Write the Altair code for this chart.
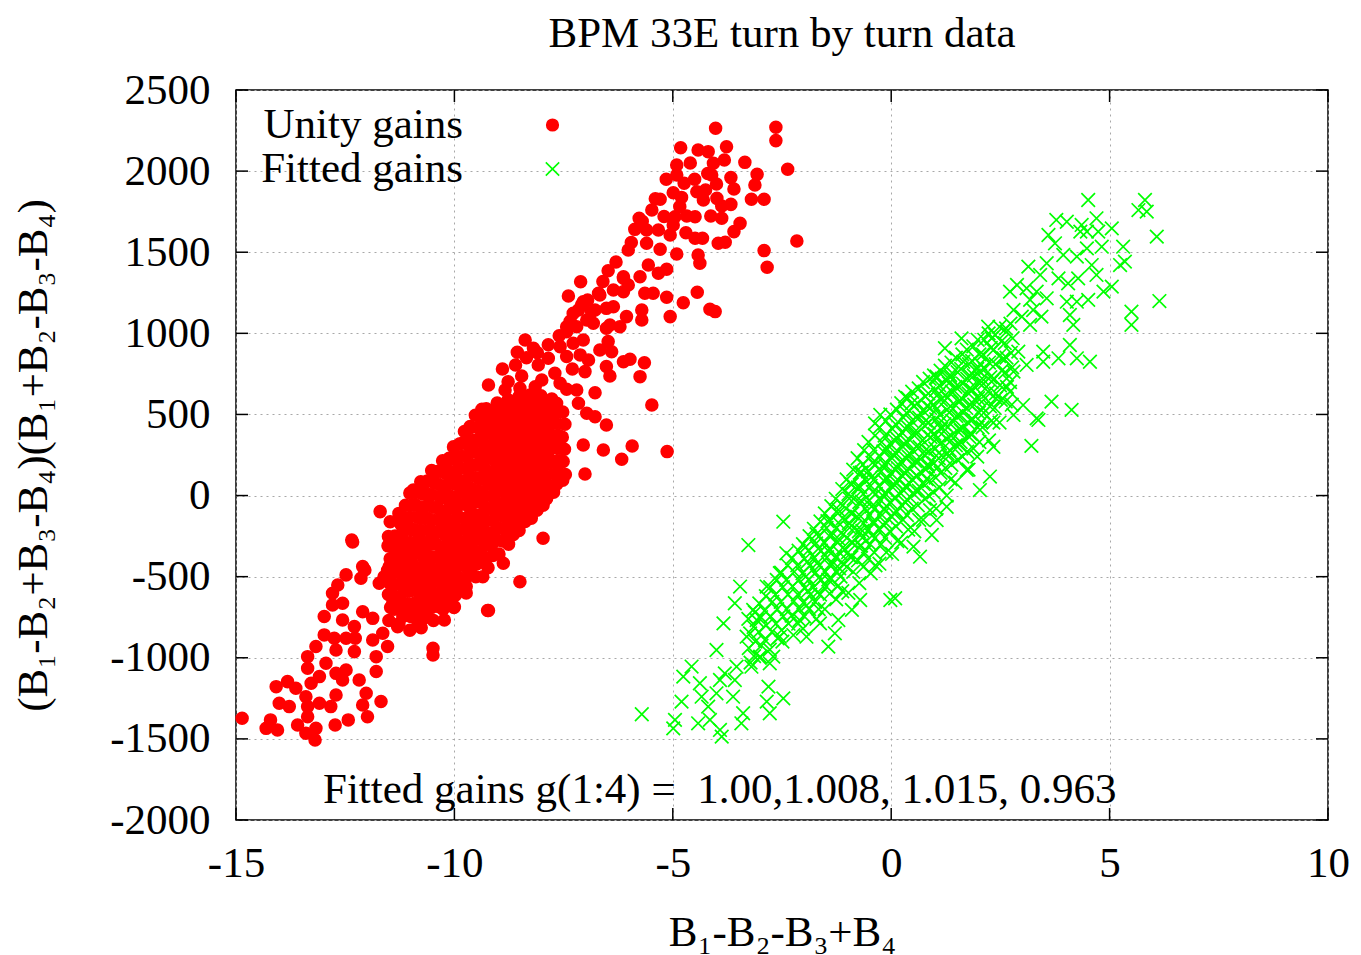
import altair as alt
import pandas as pd

FONT = "Liberation Serif"
FS = 43

title_text = "BPM 33E turn by turn data"
x_title = "B₁-B₂-B₃+B₄"
y_title = "(B₁-B₂+B₃-B₄)(B₁+B₂-B₃-B₄)"
note_text = "Fitted gains g(1:4) = \u00a01.00,1.008, 1.015, 0.963"
series_names = ["Unity gains", "Fitted gains"]
series_colors = ["#ff0000", "#00ff00"]
x_ticks = [-15, -10, -5, 0, 5, 10]
y_ticks = [-2000, -1500, -1000, -500, 0, 500, 1000, 1500, 2000, 2500]

# ---------------- Unity gains (red) ----------------
red_upper = [
    [-4.02, 2264], [-2.64, 2270], [-2.64, 2188], [-2.37, 2011], [-2.16, 1569], [-2.91, 1510], [-2.84, 1407],
    [-4.82, 2144], [-4.42, 2130], [-4.19, 2120], [-3.77, 2150], [-3.82, 2068], [-3.35, 2054], [-4.91, 2038],
    [-4.91, 1976], [-4.07, 2048], [-4.11, 1976], [-3.07, 1980], [-3.67, 1960], [-3.6, 1890], [-3.12, 1914],
    [-3.2, 1826], [-2.91, 1826], [-4.74, 1925], [-4.99, 1867], [-4.45, 1873], [-4.25, 1884], [-4.3, 1822],
    [-3.99, 1832], [-3.88, 1785], [-3.67, 1795], [-4.8, 1838], [-4.84, 1781], [-5.29, 1826], [-5.48, 1760],
    [-5.77, 1709], [-4.95, 1719], [-4.68, 1723], [-4.49, 1719], [-4.13, 1723], [-3.88, 1709], [-3.46, 1678],
    [-3.6, 1627], [-5.87, 1641], [-5.6, 1637], [-5.33, 1637], [-5.06, 1606], [-4.99, 1668], [-4.49, 1586],
    [-4.32, 1586], [-3.96, 1555], [-3.8, 1561], [-6.02, 1514], [-5.6, 1555], [-5.29, 1518], [-4.91, 1489],
    [-4.42, 1483], [-4.38, 1432], [-6.48, 1386], [-6.13, 1349], [-5.75, 1349], [-5.33, 1370], [-5.14, 1395],
    [-5.56, 1421], [-7.11, 1318], [-7.39, 1230], [-7.09, 1175], [-6.67, 1236], [-6.36, 1267], [-6.02, 1298],
    [-5.64, 1247], [-5.45, 1247], [-5.14, 1222], [-4.44, 1253], [-4.76, 1189], [-4.15, 1148], [-4.03, 1134],
    [-5.06, 1103], [-5.71, 1144], [-5.71, 1082], [-6.06, 1103], [-6.36, 1164], [-6.78, 1144], [-6.97, 1082],
    [-7.28, 1123], [-6.44, 1051], [-7.43, 1041], [-6.13, 1339], [-7.05, 1195], [-6.7, 1247], [-6.13, 1257],
    [-7.16, 1144], [-6.86, 1134], [-6.52, 1154], [-7.2, 1041], [-6.82, 1062], [-6.52, 1031], [-6.21, 1041],
    [-7.43, 1010], [-8.38, 959], [-8.19, 908], [-8.56, 883], [-7.58, 918], [-7.28, 939], [-7.05, 959],
    [-6.67, 897], [-6.48, 949], [-6.4, 887], [-7.85, 846], [-8.08, 805], [-7.43, 857], [-7.12, 867],
    [-6.93, 836], [-6.13, 825], [-5.98, 840], [-5.65, 819], [-6.52, 795], [-5.75, 733], [-6.44, 737],
    [-7.01, 764], [-7.7, 754], [-7.3, 780], [-8.46, 737], [-8.0, 712], [-8.77, 702], [-9.22, 682],
    [-8.84, 651], [-8.5, 661], [-8.15, 671], [-7.58, 692], [-7.43, 655], [-7.2, 651], [-6.78, 634],
    [-5.48, 558], [-9.37, 532], [-9.0, 507], [-8.54, 558], [-8.19, 572], [-7.66, 569], [-7.16, 569],
    [-6.97, 507], [-6.78, 486], [-6.52, 435], [-7.05, 312], [-6.59, 281], [-6.17, 224], [-5.93, 306],
    [-5.13, 271], [-7.01, 133], [-9.64, 425], [-9.76, 332], [-10.14, 219], [-10.94, 34],
    [-8.9, 780], [-8.6, 805], [-8.35, 850], [-8.1, 880], [-7.85, 930], [-7.6, 985], [-7.35, 1075],
    [-6.95, 1205], [-6.6, 1320], [-6.3, 1440], [-5.95, 1560], [-5.7, 1690], [-5.4, 1830], [-5.15, 1950],
    [-4.6, 2050], [-4.5, 1950], [-4.2, 1985], [-4.0, 1920], [-5.2, 1720], [-4.7, 1620],
]

red_core = [
    [-11.52, -310], [-11.47, -390], [-11.53, -460], [-11.48, -540], [-11.51, -610], [-11.46, -690], [-11.5, -770],
    [-11.27, -110], [-11.22, -180], [-11.26, -255], [-11.23, -330], [-11.28, -410], [-11.24, -480], [-11.21, -555],
    [-11.26, -630], [-11.23, -705], [-11.27, -790],
    [-11.02, 15], [-10.97, -60], [-11.03, -135], [-10.98, -210], [-11.01, -290], [-10.96, -365], [-11.02, -440],
    [-10.99, -515], [-11.03, -590], [-10.97, -670], [-11.0, -745], [-11.02, -830],
    [-10.77, 85], [-10.73, 10], [-10.76, -70], [-10.72, -145], [-10.78, -220], [-10.74, -300], [-10.71, -375],
    [-10.76, -450], [-10.73, -525], [-10.77, -600], [-10.74, -680], [-10.72, -760], [-10.76, -815],
    [-10.52, 155], [-10.47, 80], [-10.53, 5], [-10.48, -70], [-10.51, -150], [-10.46, -225], [-10.52, -300],
    [-10.49, -380], [-10.53, -455], [-10.47, -530], [-10.5, -610], [-10.52, -690], [-10.48, -770],
    [-10.27, 215], [-10.22, 140], [-10.26, 60], [-10.23, -15], [-10.28, -95], [-10.24, -170], [-10.21, -245],
    [-10.26, -320], [-10.23, -400], [-10.27, -475], [-10.24, -550], [-10.22, -625], [-10.26, -700],
    [-10.02, 300], [-9.97, 220], [-10.03, 145], [-9.98, 70], [-10.01, -10], [-9.96, -85], [-10.02, -160],
    [-9.99, -235], [-10.03, -315], [-9.97, -390], [-10.0, -465], [-10.02, -540], [-9.98, -615], [-10.01, -690],
    [-9.77, 395], [-9.72, 320], [-9.76, 245], [-9.73, 165], [-9.78, 90], [-9.74, 15], [-9.71, -60],
    [-9.76, -140], [-9.73, -215], [-9.77, -290], [-9.74, -365], [-9.72, -445], [-9.76, -520], [-9.73, -600],
    [-9.52, 495], [-9.47, 420], [-9.53, 340], [-9.48, 265], [-9.51, 190], [-9.46, 110], [-9.52, 35],
    [-9.49, -40], [-9.53, -120], [-9.47, -195], [-9.5, -270], [-9.52, -345], [-9.48, -420], [-9.51, -500],
    [-9.27, 535], [-9.22, 460], [-9.26, 385], [-9.23, 305], [-9.28, 230], [-9.24, 150], [-9.21, 75],
    [-9.26, 0], [-9.23, -80], [-9.27, -155], [-9.24, -230], [-9.22, -305], [-9.26, -385], [-9.23, -445],
    [-9.02, 570], [-8.97, 490], [-9.03, 415], [-8.98, 340], [-9.01, 260], [-8.96, 185], [-9.02, 110],
    [-8.99, 30], [-9.03, -45], [-8.97, -120], [-9.0, -200], [-9.02, -275], [-8.98, -360],
    [-8.77, 590], [-8.72, 515], [-8.76, 440], [-8.73, 360], [-8.78, 285], [-8.74, 210], [-8.71, 130],
    [-8.76, 55], [-8.73, -20], [-8.77, -100], [-8.74, -175], [-8.72, -250], [-8.76, -300],
    [-8.52, 610], [-8.47, 530], [-8.53, 455], [-8.48, 380], [-8.51, 300], [-8.46, 225], [-8.52, 150],
    [-8.49, 70], [-8.53, -5], [-8.47, -80], [-8.5, -155], [-8.52, -215],
    [-8.27, 620], [-8.22, 545], [-8.26, 470], [-8.23, 390], [-8.28, 315], [-8.24, 240], [-8.21, 160],
    [-8.26, 85], [-8.23, 10], [-8.27, -65], [-8.24, -140],
    [-8.02, 615], [-7.97, 540], [-8.03, 465], [-7.98, 385], [-8.01, 310], [-7.96, 235], [-8.02, 155],
    [-7.99, 80], [-8.03, 0], [-7.97, -60],
    [-7.77, 595], [-7.72, 520], [-7.76, 445], [-7.73, 365], [-7.78, 290], [-7.74, 210], [-7.71, 135],
    [-7.76, 60], [-7.73, 20],
    [-7.52, 515], [-7.47, 440], [-7.53, 360], [-7.48, 285], [-7.51, 210], [-7.46, 130], [-7.52, 95],
]

red_core_fill = [
    [-11.36, -250], [-11.39, -325], [-11.35, -400], [-11.4, -475], [-11.37, -550], [-11.34, -625], [-11.38, -700],
    [-11.12, -60], [-11.15, -135], [-11.11, -210], [-11.14, -285], [-11.1, -360], [-11.13, -435], [-11.16, -510],
    [-11.12, -585], [-11.14, -660], [-11.11, -735],
    [-10.87, 20], [-10.9, -55], [-10.86, -130], [-10.89, -205], [-10.85, -280], [-10.88, -355], [-10.91, -430],
    [-10.87, -505], [-10.89, -580], [-10.86, -655], [-10.88, -730],
    [-10.62, 90], [-10.65, 15], [-10.61, -60], [-10.64, -135], [-10.6, -210], [-10.63, -285], [-10.66, -360],
    [-10.62, -435], [-10.64, -510], [-10.61, -585], [-10.63, -660], [-10.65, -735],
    [-10.37, 150], [-10.4, 75], [-10.36, 0], [-10.39, -75], [-10.35, -150], [-10.38, -225], [-10.41, -300],
    [-10.37, -375], [-10.39, -450], [-10.36, -525], [-10.38, -600], [-10.4, -675],
    [-10.12, 230], [-10.15, 155], [-10.11, 80], [-10.14, 5], [-10.1, -70], [-10.13, -145], [-10.16, -220],
    [-10.12, -295], [-10.14, -370], [-10.11, -445], [-10.13, -520], [-10.15, -595], [-10.12, -660],
    [-9.87, 320], [-9.9, 245], [-9.86, 170], [-9.89, 95], [-9.85, 20], [-9.88, -55], [-9.91, -130],
    [-9.87, -205], [-9.89, -280], [-9.86, -355], [-9.88, -430], [-9.9, -505], [-9.87, -580],
    [-9.62, 420], [-9.65, 345], [-9.61, 270], [-9.64, 195], [-9.6, 120], [-9.63, 45], [-9.66, -30],
    [-9.62, -105], [-9.64, -180], [-9.61, -255], [-9.63, -330], [-9.65, -405], [-9.62, -480],
    [-9.37, 480], [-9.4, 405], [-9.36, 330], [-9.39, 255], [-9.35, 180], [-9.38, 105], [-9.41, 30],
    [-9.37, -45], [-9.39, -120], [-9.36, -195], [-9.38, -270], [-9.4, -345], [-9.37, -410],
    [-9.12, 520], [-9.15, 445], [-9.11, 370], [-9.14, 295], [-9.1, 220], [-9.13, 145], [-9.16, 70],
    [-9.12, -5], [-9.14, -80], [-9.11, -155], [-9.13, -230], [-9.15, -305], [-9.12, -370],
    [-8.87, 545], [-8.9, 470], [-8.86, 395], [-8.89, 320], [-8.85, 245], [-8.88, 170], [-8.91, 95],
    [-8.87, 20], [-8.89, -55], [-8.86, -130], [-8.88, -205], [-8.9, -280],
    [-8.62, 565], [-8.65, 490], [-8.61, 415], [-8.64, 340], [-8.6, 265], [-8.63, 190], [-8.66, 115],
    [-8.62, 40], [-8.64, -35], [-8.61, -110], [-8.63, -185], [-8.65, -240],
    [-8.37, 580], [-8.4, 505], [-8.36, 430], [-8.39, 355], [-8.35, 280], [-8.38, 205], [-8.41, 130],
    [-8.37, 55], [-8.39, -20], [-8.36, -95], [-8.38, -160],
    [-8.12, 580], [-8.15, 505], [-8.11, 430], [-8.14, 355], [-8.1, 280], [-8.13, 205], [-8.16, 130],
    [-8.12, 55], [-8.14, -20], [-8.11, -90],
    [-7.87, 570], [-7.9, 495], [-7.86, 420], [-7.89, 345], [-7.85, 270], [-7.88, 195], [-7.91, 120],
    [-7.87, 45], [-7.89, -20],
    [-7.62, 520], [-7.65, 445], [-7.61, 370], [-7.64, 295], [-7.6, 220], [-7.63, 145], [-7.66, 70],
]

red_lower = [
    [-14.86, -1373], [-14.31, -1435], [-14.05, -1445], [-14.21, -1383], [-13.59, -1414], [-13.4, -1465],
    [-13.19, -1507], [-13.17, -1435], [-13.36, -1363], [-14.01, -1280], [-13.78, -1301], [-14.08, -1178],
    [-13.82, -1147], [-13.63, -1188], [-13.4, -1240], [-13.36, -1301], [-13.09, -1280], [-12.83, -1301],
    [-12.73, -1414], [-12.43, -1383], [-12.71, -1229], [-12.1, -1291], [-11.99, -1363], [-11.68, -1270],
    [-12.02, -1219], [-12.18, -1137], [-13.36, -1065], [-13.36, -993], [-13.17, -931], [-13.28, -1157],
    [-13.09, -1116], [-12.94, -1034], [-12.71, -1096], [-12.56, -1137], [-12.48, -1075], [-12.98, -859],
    [-12.75, -880], [-12.71, -952], [-12.29, -962], [-12.98, -746], [-12.79, -674], [-12.56, -664],
    [-12.79, -602], [-12.67, -551], [-12.48, -489], [-12.1, -438], [-12.14, -510], [-12.33, -286],
    [-12.56, -767], [-12.29, -808], [-12.1, -716], [-11.87, -757], [-11.64, -849], [-11.53, -931],
    [-11.79, -993], [-11.79, -1085], [-11.87, -890], [-12.27, -880], [-12.48, -880], [-10.49, -941],
    [-10.49, -983], [-10.84, -798], [-11.3, -808], [-10.23, -767], [-10.0, -685], [-10.35, -685],
    [-9.24, -709], [-9.35, -500], [-9.73, -561], [-11.41, -664], [-11.61, -500], [-11.72, -541],
    [-11.49, -438], [-11.34, -356], [-11.11, -397], [-10.96, -479], [-10.73, -561], [-11.04, -685],
    [-10.8, -726], [-11.18, -746], [-10.42, -459], [-10.12, -397], [-9.66, -376], [-10.27, -541],
    [-10.58, -623], [-12.35, -274], [-11.7, -99], [-11.47, -161], [-11.21, -140], [-11.51, -253],
    [-12.05, -459], [-8.5, -531], [-7.97, -263], [-8.88, -417], [-9.22, -709],
]

# ---------------- Fitted gains (green) ----------------
green_upper = [
    [4.51, 1822], [5.81, 1822], [5.85, 1750], [5.66, 1760], [6.08, 1596], [6.14, 1199], [5.5, 1134],
    [5.5, 1052], [5.31, 1534], [5.35, 1442], [5.24, 1421], [5.05, 1647], [5.05, 1288], [4.86, 1257],
    [4.36, 1668], [4.48, 1627], [4.33, 1627], [4.7, 1709], [4.74, 1627], [3.78, 1699], [4.02, 1688],
    [3.6, 1606], [3.75, 1555], [3.94, 1483], [4.25, 1473], [4.48, 1524], [4.82, 1534], [4.59, 1421],
    [4.7, 1360], [4.28, 1339], [4.05, 1308], [3.83, 1339], [3.56, 1432], [3.41, 1360], [3.14, 1411],
    [2.88, 1298], [2.72, 1257], [3.1, 1278], [3.33, 1257], [3.56, 1216], [3.18, 1206], [4.02, 1195],
    [4.25, 1195], [4.51, 1206], [4.09, 1113], [4.17, 1052], [2.8, 1144], [2.99, 1103], [3.25, 1144],
    [3.44, 1103], [3.18, 1052], [2.64, 1010], [2.22, 1041], [2.3, 969], [1.61, 969], [1.23, 908],
    [4.09, 928], [3.83, 846], [4.25, 846], [4.55, 825], [3.48, 887], [3.48, 825], [2.91, 887],
    [3.1, 805], [2.8, 764], [2.57, 846], [3.67, 579], [4.13, 528], [3.02, 558], [3.33, 476],
    [2.3, 702], [2.03, 764], [1.65, 825], [1.35, 743], [1.04, 723], [1.8, 660], [2.4, 600], [2.72, 640],
    [3.37, 466], [3.21, 306], [2.8, 497], [2.34, 301], [2.26, 117], [2.03, 34], [1.73, 158],
    [1.27, -69], [1.04, -151], [0.93, -243], [0.51, -315], [0.66, -377], [0.09, -633], [-0.02, -644],
    [-0.25, 497], [-0.37, 445], [0.32, 610], [0.47, 569], [1.04, 733], [-2.47, -161],
]

green_core = [
    [-3.27, -760], [-3.23, -850], [-3.26, -940], [-3.22, -1030],
    [-3.02, -665], [-2.98, -750], [-3.03, -840], [-2.97, -925], [-3.01, -1000],
    [-2.77, -565], [-2.72, -655], [-2.76, -745], [-2.73, -840], [-2.78, -950],
    [-2.52, -475], [-2.48, -565], [-2.53, -655], [-2.47, -745], [-2.51, -830], [-2.49, -900],
    [-2.27, -385], [-2.22, -470], [-2.26, -560], [-2.23, -650], [-2.28, -740], [-2.24, -860],
    [-2.02, -300], [-1.98, -390], [-2.03, -480], [-1.97, -570], [-2.01, -660], [-1.99, -745], [-2.02, -820],
    [-1.77, -205], [-1.72, -295], [-1.76, -385], [-1.73, -475], [-1.78, -565], [-1.74, -655], [-1.71, -760],
    [-1.52, -110], [-1.48, -200], [-1.53, -290], [-1.47, -380], [-1.51, -470], [-1.49, -560], [-1.52, -700],
    [-1.27, -20], [-1.22, -110], [-1.26, -200], [-1.23, -290], [-1.28, -380], [-1.24, -470], [-1.21, -555],
    [-1.26, -640],
    [-1.02, 100], [-0.98, 10], [-1.03, -80], [-0.97, -170], [-1.01, -260], [-0.99, -350], [-1.02, -440],
    [-0.98, -600],
    [-0.77, 230], [-0.72, 140], [-0.76, 50], [-0.73, -40], [-0.78, -130], [-0.74, -220], [-0.71, -310],
    [-0.76, -400], [-0.73, -540],
    [-0.52, 330], [-0.48, 240], [-0.53, 150], [-0.47, 60], [-0.51, -30], [-0.49, -120], [-0.52, -210],
    [-0.48, -300], [-0.53, -390], [-0.47, -480],
    [-0.27, 420], [-0.22, 330], [-0.26, 240], [-0.23, 150], [-0.28, 60], [-0.24, -30], [-0.21, -120],
    [-0.26, -210], [-0.23, -300], [-0.27, -420],
    [-0.02, 500], [0.03, 410], [-0.03, 320], [0.02, 230], [-0.01, 140], [0.04, 50], [-0.02, -40],
    [0.01, -130], [-0.03, -220], [0.02, -360],
    [0.23, 570], [0.28, 480], [0.24, 390], [0.27, 300], [0.22, 210], [0.26, 120], [0.29, 30],
    [0.24, -60], [0.27, -150], [0.23, -290],
    [0.48, 640], [0.52, 550], [0.47, 460], [0.53, 370], [0.49, 280], [0.51, 190], [0.48, 100],
    [0.52, 10], [0.47, -80], [0.53, -220],
    [0.73, 700], [0.78, 610], [0.74, 520], [0.77, 430], [0.72, 340], [0.76, 250], [0.79, 160],
    [0.74, 70], [0.77, -20], [0.73, -150],
    [0.98, 740], [1.02, 650], [0.97, 560], [1.03, 470], [0.99, 380], [1.01, 290], [0.98, 200],
    [1.02, 110], [0.97, 20], [1.03, -80],
    [1.23, 800], [1.28, 710], [1.24, 620], [1.27, 530], [1.22, 440], [1.26, 350], [1.29, 260],
    [1.24, 170], [1.27, 0],
    [1.48, 850], [1.52, 760], [1.47, 670], [1.53, 580], [1.49, 490], [1.51, 400], [1.48, 310],
    [1.52, 220], [1.47, 80],
    [1.73, 900], [1.78, 810], [1.74, 720], [1.77, 630], [1.72, 540], [1.76, 450], [1.79, 360],
    [1.74, 270], [1.77, 160],
    [1.98, 960], [2.02, 870], [1.97, 780], [2.03, 690], [1.99, 600], [2.01, 510], [1.98, 420],
    [2.02, 330], [1.97, 240],
    [2.23, 1000], [2.28, 910], [2.24, 820], [2.27, 730], [2.22, 640], [2.26, 550], [2.29, 460], [2.24, 340],
    [2.48, 1040], [2.52, 950], [2.47, 860], [2.53, 770], [2.49, 680], [2.51, 590], [2.48, 450],
    [2.73, 1060], [2.78, 970], [2.74, 880], [2.77, 790], [2.72, 700], [2.76, 560],
]

green_core_fill = [
    [-3.12, -720], [-3.15, -810], [-3.11, -900], [-3.14, -990],
    [-2.87, -620], [-2.9, -710], [-2.86, -800], [-2.89, -890],
    [-2.62, -520], [-2.65, -610], [-2.61, -700], [-2.64, -790], [-2.6, -880],
    [-2.37, -430], [-2.4, -520], [-2.36, -610], [-2.39, -700], [-2.35, -790],
    [-2.12, -340], [-2.15, -430], [-2.11, -520], [-2.14, -610], [-2.1, -700], [-2.13, -790],
    [-1.87, -250], [-1.9, -340], [-1.86, -430], [-1.89, -520], [-1.85, -610], [-1.88, -700],
    [-1.62, -160], [-1.65, -250], [-1.61, -340], [-1.64, -430], [-1.6, -520], [-1.63, -610], [-1.66, -700],
    [-1.37, -65], [-1.4, -155], [-1.36, -245], [-1.39, -335], [-1.35, -425], [-1.38, -515], [-1.41, -605],
    [-1.12, 40], [-1.15, -50], [-1.11, -140], [-1.14, -230], [-1.1, -320], [-1.13, -410], [-1.16, -500],
    [-1.12, -590],
    [-0.87, 160], [-0.9, 70], [-0.86, -20], [-0.89, -110], [-0.85, -200], [-0.88, -290], [-0.91, -380],
    [-0.87, -470],
    [-0.62, 280], [-0.65, 190], [-0.61, 100], [-0.64, 10], [-0.6, -80], [-0.63, -170], [-0.66, -260],
    [-0.62, -350], [-0.64, -440],
    [-0.37, 370], [-0.4, 280], [-0.36, 190], [-0.39, 100], [-0.35, 10], [-0.38, -80], [-0.41, -170],
    [-0.37, -260], [-0.39, -350], [-0.36, -430],
    [-0.12, 460], [-0.15, 370], [-0.11, 280], [-0.14, 190], [-0.1, 100], [-0.13, 10], [-0.16, -80],
    [-0.12, -170], [-0.14, -260], [-0.11, -350],
    [0.13, 530], [0.1, 440], [0.14, 350], [0.11, 260], [0.15, 170], [0.12, 80], [0.09, -10],
    [0.13, -100], [0.11, -190], [0.14, -280],
    [0.38, 600], [0.35, 510], [0.39, 420], [0.36, 330], [0.4, 240], [0.37, 150], [0.34, 60],
    [0.38, -30], [0.36, -120], [0.39, -210],
    [0.63, 660], [0.6, 570], [0.64, 480], [0.61, 390], [0.65, 300], [0.62, 210], [0.59, 120],
    [0.63, 30], [0.61, -60], [0.64, -150],
    [0.88, 720], [0.85, 630], [0.89, 540], [0.86, 450], [0.9, 360], [0.87, 270], [0.84, 180],
    [0.88, 90], [0.86, 0], [0.89, -90],
    [1.13, 770], [1.1, 680], [1.14, 590], [1.11, 500], [1.15, 410], [1.12, 320], [1.09, 230],
    [1.13, 140], [1.11, 50],
    [1.38, 820], [1.35, 730], [1.39, 640], [1.36, 550], [1.4, 460], [1.37, 370], [1.34, 280],
    [1.38, 190], [1.36, 100],
    [1.63, 870], [1.6, 780], [1.64, 690], [1.61, 600], [1.65, 510], [1.62, 420], [1.59, 330], [1.63, 240],
    [1.88, 920], [1.85, 830], [1.89, 740], [1.86, 650], [1.9, 560], [1.87, 470], [1.84, 380], [1.88, 290],
    [2.13, 960], [2.1, 870], [2.14, 780], [2.11, 690], [2.15, 600], [2.12, 510], [2.09, 420],
    [2.38, 990], [2.35, 900], [2.39, 810], [2.36, 720], [2.4, 630], [2.37, 540], [2.34, 450],
    [2.63, 1030], [2.6, 940], [2.64, 850], [2.61, 760], [2.65, 670], [2.62, 580],
]

green_center = [
    [-1.94, -678], [-1.91, -588], [-1.95, -498], [-1.92, -408], [-1.96, -318],
    [-1.69, -598], [-1.66, -508], [-1.7, -418], [-1.67, -328], [-1.71, -238],
    [-1.44, -518], [-1.41, -428], [-1.45, -338], [-1.42, -248], [-1.46, -158],
    [-1.19, -448], [-1.16, -358], [-1.2, -268], [-1.17, -178], [-1.21, -88],
    [-0.94, -378], [-0.91, -288], [-0.95, -198], [-0.92, -108], [-0.96, -18], [-0.93, 72],
    [-0.69, -308], [-0.66, -218], [-0.7, -128], [-0.67, -38], [-0.71, 52], [-0.68, 142],
    [-0.44, -248], [-0.41, -158], [-0.45, -68], [-0.42, 22], [-0.46, 112], [-0.43, 202],
    [-0.19, -178], [-0.16, -88], [-0.2, 2], [-0.17, 92], [-0.21, 182], [-0.18, 272],
    [0.06, -108], [0.09, -18], [0.05, 72], [0.08, 162], [0.04, 252], [0.07, 342],
    [0.31, -38], [0.34, 52], [0.3, 142], [0.33, 232], [0.29, 322], [0.32, 412],
    [0.56, 32], [0.59, 122], [0.55, 212], [0.58, 302], [0.54, 392], [0.57, 482],
    [0.81, 102], [0.84, 192], [0.8, 282], [0.83, 372], [0.79, 462], [0.82, 552],
    [1.06, 172], [1.09, 262], [1.05, 352], [1.08, 442], [1.04, 532], [1.07, 622],
    [1.31, 242], [1.34, 332], [1.3, 422], [1.33, 512], [1.29, 602], [1.32, 692],
    [1.56, 312], [1.59, 402], [1.55, 492], [1.58, 582], [1.54, 672],
    [1.81, 382], [1.84, 472], [1.8, 562], [1.83, 652], [1.79, 742],
    [2.06, 452], [2.09, 542], [2.05, 632], [2.08, 722], [2.04, 812],
]

green_lower = [
    [-5.71, -1348], [-4.95, -1383], [-4.99, -1435], [-4.8, -1270], [-4.76, -1116], [-4.57, -1054],
    [-4.38, -1157], [-4.34, -1240], [-4.42, -1404], [-4.15, -1383], [-3.92, -1445], [-3.88, -1486],
    [-4.19, -1301], [-4.0, -1219], [-3.81, -1096], [-3.92, -1137], [-3.62, -1240], [-3.39, -1342],
    [-3.43, -1404], [-3.58, -1137], [-3.54, -1055], [-4.0, -952], [-3.84, -788], [-3.58, -664],
    [-3.27, -305], [-3.16, -705], [-3.08, -767], [-3.31, -870], [-3.2, -1055], [-3.0, -993],
    [-2.78, -1034], [-2.7, -993], [-2.81, -1178], [-2.85, -1270], [-2.78, -1342], [-2.47, -1250],
    [-3.46, -561], [-2.85, -561], [-2.55, -479], [-2.4, -356], [-1.44, -931], [-1.29, -849],
    [-1.21, -767], [-0.9, -705], [-0.71, -644], [-2.1, -767], [-2.55, -870], [-1.94, -870], [-1.63, -788],
]

rows = []
for pts in (red_upper, red_core, red_core_fill, red_lower):
    for px, py in pts:
        rows.append({"x": px, "y": py, "series": series_names[0]})
for pts in (green_upper, green_core, green_core_fill, green_center, green_lower):
    for px, py in pts:
        rows.append({"x": px, "y": py, "series": series_names[1]})
df = pd.DataFrame(rows)

W, H = 1092, 730
TICK = 12
xs = alt.Scale(domain=[-15, 10], nice=False, zero=False)
ys = alt.Scale(domain=[-2000, 2500], nice=False, zero=False)
cross = "M-1.15,-1.15L1.15,1.15M-1.15,1.15L1.15,-1.15"

x_axis = alt.Axis(
    values=x_ticks, title=x_title, grid=True, labelExpr="'' + datum.value",
    labelBaseline="alphabetic", labelPadding=56, labelFlush=False,
    titleX=546, titleY=125, titleBaseline="alphabetic", titleAlign="center",
)
y_axis = alt.Axis(
    values=y_ticks, title=y_title, grid=True, labelExpr="'' + datum.value",
    labelPadding=26, labelFlush=False, titleAngle=270, titleX=-190, titleY=365,
    titleBaseline="alphabetic", titleAlign="center",
)

leg = alt.Legend(
    title=None, orient="none", legendX=295, legendY=13.5, padding=0,
    labelFont=FONT, labelFontSize=FS, labelColor="black", labelAlign="right",
    labelOffset={"expr": "-111"}, labelLimit=500, symbolSize=135, symbolStrokeWidth=1.6,
    rowPadding=0, symbolOpacity=1,
)

points = alt.Chart(df).mark_point(opacity=1, strokeWidth=1.7, size=140).encode(
    x=alt.X("x:Q", scale=xs, axis=x_axis),
    y=alt.Y("y:Q", scale=ys, axis=y_axis),
    fill=alt.Fill("series:N", scale=alt.Scale(domain=series_names, range=series_colors), legend=leg),
    stroke=alt.Stroke("series:N", scale=alt.Scale(domain=series_names, range=series_colors), legend=leg),
    shape=alt.Shape("series:N", scale=alt.Scale(domain=series_names, range=["circle", cross]), legend=leg),
)

xt = pd.DataFrame({"x": x_ticks})
yt = pd.DataFrame({"y": y_ticks})
rule_style = dict(color="black", strokeWidth=1.5)
tick_left = alt.Chart(yt).mark_rule(**rule_style).encode(
    y=alt.Y("y:Q", scale=ys, axis=y_axis), x=alt.value(0), x2=alt.value(TICK))
tick_right = alt.Chart(yt).mark_rule(**rule_style).encode(
    y=alt.Y("y:Q", scale=ys, axis=y_axis), x=alt.value(W - TICK), x2=alt.value(W))
tick_bottom = alt.Chart(xt).mark_rule(**rule_style).encode(
    x=alt.X("x:Q", scale=xs, axis=x_axis), y=alt.value(H - TICK), y2=alt.value(H))
tick_top = alt.Chart(xt).mark_rule(**rule_style).encode(
    x=alt.X("x:Q", scale=xs, axis=x_axis), y=alt.value(0), y2=alt.value(TICK))

one = pd.DataFrame({"k": [0]})
title_mark = alt.Chart(one).mark_text(
    text=title_text, font=FONT, fontSize=FS, align="center", baseline="alphabetic", color="black"
).encode(x=alt.value(546), y=alt.value(-43))
note_mark = alt.Chart(one).mark_text(
    text=note_text, font=FONT, fontSize=FS, align="left", baseline="alphabetic", color="black"
).encode(x=alt.value(87), y=alt.value(713))

chart = alt.layer(
    points, tick_left, tick_right, tick_bottom, tick_top, title_mark, note_mark
).properties(
    width=W, height=H,
    autosize=alt.AutoSizeParams(type="none"),
    padding={"left": 228, "top": 82, "right": 25, "bottom": 135},
).configure_view(
    stroke="black", strokeWidth=1.5
).configure_axis(
    domain=False, ticks=False, tickSize=0,
    labelFont=FONT, labelFontSize=FS, labelColor="black",
    titleFont=FONT, titleFontSize=FS, titleFontWeight="normal", titleColor="black",
    gridColor="#a8a8a8", gridDash=[2, 4], gridWidth=1, gridOpacity=1,
    labelOverlap=False,
).configure_legend(
    labelFont=FONT,
)

chart.save("out.html", embed_options={"renderer": "svg", "actions": False})
